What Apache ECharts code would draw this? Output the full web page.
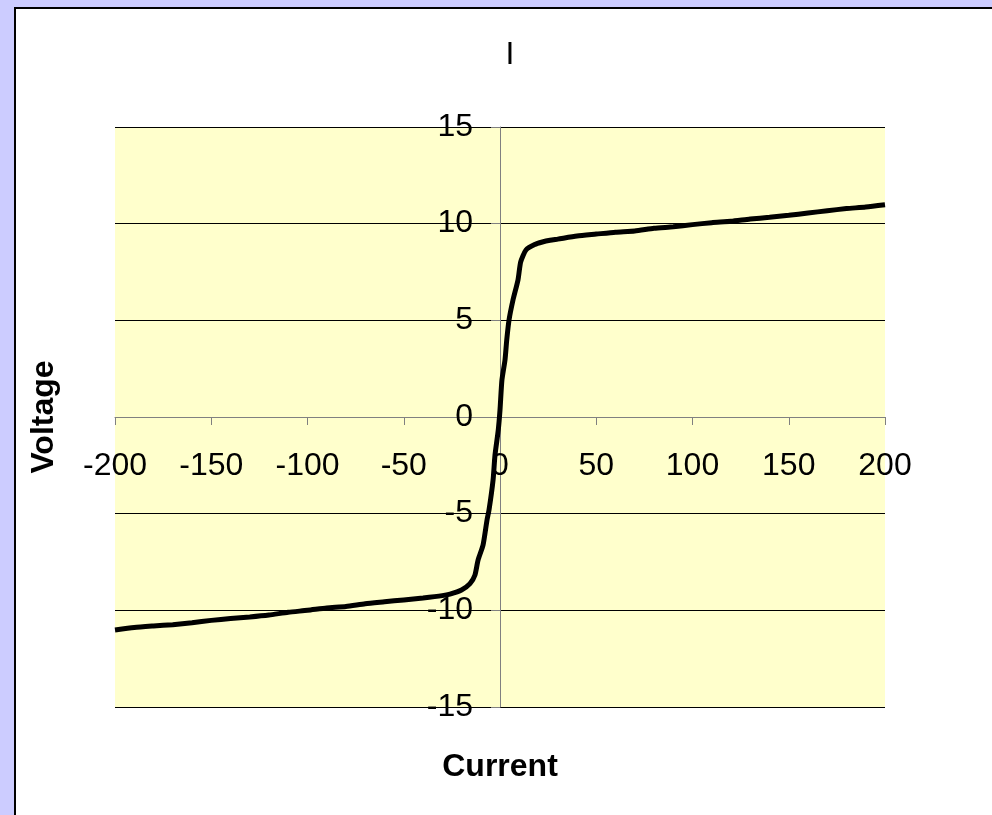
<!DOCTYPE html>
<html>
<head>
<meta charset="utf-8">
<script src="https://cdn.jsdelivr.net/npm/echarts@6/dist/echarts.min.js"></script>
<style>
  html, body { margin: 0; padding: 0; background: #ccccff; }
  #chart { width: 992px; height: 815px; }
</style>
</head>
<body>
<div id="chart"></div>
<script>
// I-V characteristic: current (x) against voltage (y)
const current = [
  -200, -190, -180, -170, -160, -150, -140, -130, -120, -110,
  -100, -90, -80, -70, -60, -50, -40, -30, -26, -20,
  -15.6, -13, -11.4, -8.8, -6.75, -5.7, -3.6, -2.6, -0.9, 0,
  1.0, 2.6, 3.5, 4.7, 6.75, 9.35, 10.75, 13.5, 18, 22,
  26, 30, 40, 50, 60, 70, 80, 90, 100, 110,
  120, 130, 140, 150, 160, 170, 180, 190, 200
];
const voltage = [
  -11.02, -10.89, -10.81, -10.74, -10.64, -10.52, -10.42, -10.34, -10.24, -10.1,
  -10.0, -9.88, -9.8, -9.66, -9.56, -9.46, -9.36, -9.24, -9.16, -8.95,
  -8.62, -8.17, -7.4, -6.62, -5.33, -4.81, -3.26, -1.97, -0.67, 0.36,
  1.91, 2.95, 3.98, 5.02, 6.05, 7.09, 8.02, 8.64, 8.92, 9.05,
  9.14, 9.2, 9.36, 9.46, 9.56, 9.62, 9.76, 9.84, 9.95, 10.05,
  10.12, 10.24, 10.33, 10.43, 10.55, 10.67, 10.78, 10.86, 10.98
];
const xTicks = { min: -200, max: 200, step: 50 };
const yTicks = { min: -15, max: 15, step: 5 };

const points = current.map((c, i) => [c, voltage[i]]);

// plot rectangle
const plot = { left: 115, top: 127, width: 770, height: 580 };
// axes cross at the origin: shift each axis from the plot edge to the zero line
const xAxisOffset = -Math.round(plot.height * (0 - yTicks.min) / (yTicks.max - yTicks.min));
const yAxisOffset = -Math.round(plot.width * (0 - xTicks.min) / (xTicks.max - xTicks.min));

const chart = echarts.init(document.getElementById('chart'), null, { renderer: 'canvas' });
const fontFamily = '"Liberation Sans", Arial, sans-serif';

chart.setOption({
  animation: false,
  backgroundColor: '#ccccff',
  graphic: [{
    type: 'rect',
    z: -10,
    shape: { x: 15, y: 8, width: 1000, height: 900 },
    style: { fill: '#ffffff', stroke: '#000000', lineWidth: 2 }
  }],
  title: {
    text: 'I',
    left: 505,
    top: 34,
    textAlign: 'center',
    textStyle: { fontFamily, fontSize: 32, fontWeight: 'normal', color: '#000' }
  },
  grid: {
    left: plot.left, top: plot.top, width: plot.width, height: plot.height,
    containLabel: false,
    outerBoundsMode: 'none',
    show: true, backgroundColor: '#ffffcc', borderWidth: 0
  },
  xAxis: {
    type: 'value',
    position: 'bottom',
    offset: xAxisOffset,
    min: xTicks.min, max: xTicks.max, interval: xTicks.step,
    name: 'Current',
    nameLocation: 'middle',
    nameGap: 334,
    nameTextStyle: { fontFamily, fontSize: 32, fontWeight: 'bold', color: '#000' },
    axisLine: { onZero: false, lineStyle: { color: '#808080', width: 1 } },
    axisTick: { show: true, inside: false, length: 8, lineStyle: { color: '#808080' } },
    axisLabel: {
      fontFamily, fontSize: 32, color: '#000', margin: 33,
      showMinLabel: true, showMaxLabel: true, hideOverlap: false
    },
    splitLine: { show: false }
  },
  yAxis: {
    type: 'value',
    position: 'left',
    offset: yAxisOffset,
    min: yTicks.min, max: yTicks.max, interval: yTicks.step,
    name: 'Voltage',
    nameLocation: 'middle',
    nameGap: 440,
    nameTextStyle: { fontFamily, fontSize: 32, fontWeight: 'bold', color: '#000' },
    axisLine: { onZero: false, lineStyle: { color: '#808080', width: 1 } },
    axisTick: { show: true, inside: false, length: 9, lineStyle: { color: '#808080' } },
    axisLabel: {
      fontFamily, fontSize: 32, color: '#000', margin: 27,
      showMinLabel: true, showMaxLabel: true, hideOverlap: false
    },
    splitLine: { show: true, lineStyle: { color: '#000', width: 1 } }
  },
  series: [{
    type: 'line',
    data: points,
    showSymbol: false,
    smooth: 0.2,
    lineStyle: { color: '#000', width: 5 },
    z: 5
  }]
});
</script>
</body>
</html>
